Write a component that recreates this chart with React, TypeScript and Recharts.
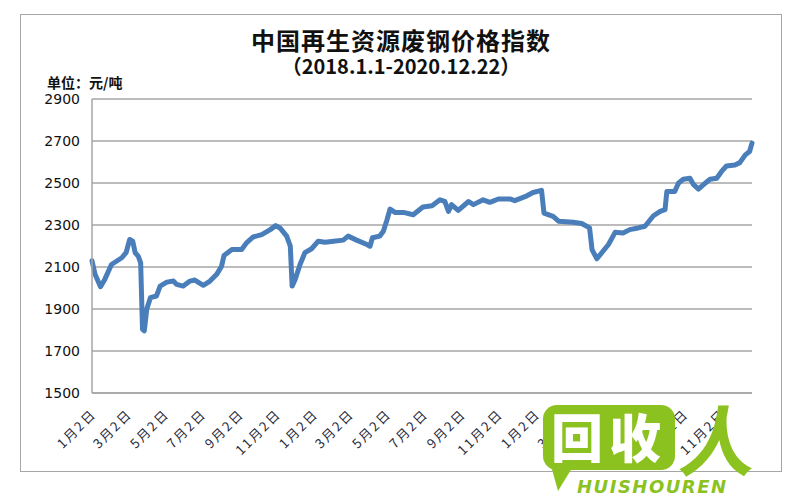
import { LineChart, Line, XAxis, YAxis, CartesianGrid } from 'recharts';

const START = Date.UTC(2018, 0, 2);
const DAY = 86400000;

// 读图估算的指数（元/吨）
const DATES = [
  '2018-01-02', '2018-01-07', '2018-01-16', '2018-01-23', '2018-02-03', '2018-02-20',
  '2018-02-27', '2018-03-05', '2018-03-10', '2018-03-14', '2018-03-19', '2018-03-23',
  '2018-03-26', '2018-03-29', '2018-04-02', '2018-04-08', '2018-04-18', '2018-04-24',
  '2018-05-05', '2018-05-16', '2018-05-21', '2018-06-01', '2018-06-12', '2018-06-20',
  '2018-07-04', '2018-07-15', '2018-07-26', '2018-08-03', '2018-08-07', '2018-08-20',
  '2018-09-05', '2018-09-13', '2018-09-24', '2018-10-08', '2018-10-22', '2018-10-31',
  '2018-11-07', '2018-11-18', '2018-11-24', '2018-11-27', '2018-12-02', '2018-12-10',
  '2018-12-18', '2018-12-29', '2019-01-09', '2019-01-20', '2019-02-03', '2019-02-19',
  '2019-02-27', '2019-03-13', '2019-03-30', '2019-04-04', '2019-04-08', '2019-04-20',
  '2019-04-26', '2019-05-02', '2019-05-07', '2019-05-15', '2019-05-29', '2019-06-14',
  '2019-06-30', '2019-07-15', '2019-07-28', '2019-08-05', '2019-08-11', '2019-08-16',
  '2019-08-27', '2019-09-13', '2019-09-21', '2019-10-07', '2019-10-18', '2019-11-01',
  '2019-11-20', '2019-11-28', '2019-12-18', '2019-12-28', '2020-01-11', '2020-01-15',
  '2020-01-30', '2020-02-08', '2020-03-03', '2020-03-17', '2020-03-30', '2020-04-03',
  '2020-04-11', '2020-04-19', '2020-04-30', '2020-05-11', '2020-05-24', '2020-06-04',
  '2020-06-18', '2020-06-29', '2020-07-13', '2020-07-24', '2020-08-01', '2020-08-04',
  '2020-08-17', '2020-08-23', '2020-08-31', '2020-09-11', '2020-09-17', '2020-09-25',
  '2020-10-06', '2020-10-14', '2020-10-25', '2020-11-02', '2020-11-10', '2020-11-24',
  '2020-12-02', '2020-12-11', '2020-12-18', '2020-12-22',
];

const VALUES = [
  2130, 2065, 2006, 2041, 2112, 2144,
  2168, 2231, 2223, 2168, 2152, 2120,
  1804, 1796, 1899, 1954, 1962, 2009,
  2028, 2033, 2017, 2009, 2033, 2038,
  2013, 2033, 2065, 2104, 2155, 2183,
  2183, 2215, 2243, 2254, 2278, 2297,
  2286, 2247, 2199, 2009, 2041, 2112,
  2168, 2187, 2223, 2218, 2223, 2228,
  2247, 2228, 2207, 2199, 2239, 2247,
  2270, 2325, 2376, 2360, 2360, 2349,
  2386, 2392, 2420, 2412, 2365, 2397,
  2370, 2412, 2397, 2420, 2408, 2424,
  2424, 2416, 2439, 2455, 2465, 2357,
  2341, 2318, 2313, 2307, 2286, 2183,
  2139, 2168, 2207, 2265, 2262, 2278,
  2286, 2294, 2344, 2365, 2373, 2460,
  2460, 2499, 2518, 2523, 2492, 2471,
  2499, 2518, 2523, 2555, 2581, 2586,
  2597, 2634, 2650, 2690,
];

const TICK_DATES = [
  '2018-01-02', '2018-03-02', '2018-05-02', '2018-07-02', '2018-09-02', '2018-11-02',
  '2019-01-02', '2019-03-02', '2019-05-02', '2019-07-02', '2019-09-02', '2019-11-02',
  '2020-01-02', '2020-03-02', '2020-05-02', '2020-07-02', '2020-09-02', '2020-11-02',
];
const Y_TICKS = [1500, 1700, 1900, 2100, 2300, 2500, 2700, 2900];

const toDay = (s: string) => {
  const [y, m, d] = s.split('-').map(Number);
  return (Date.UTC(y, m - 1, d) - START) / DAY;
};

const data = DATES.map((d, i) => ({ t: toDay(d), v: VALUES[i] }));
const xTicks = TICK_DATES.map(toDay);
const END = toDay('2020-12-22');

const tickLabel = (t: number) => {
  const dt = new Date(START + t * DAY);
  return `${dt.getUTCMonth() + 1}月${dt.getUTCDate()}日`;
};

function DateTick({ x, y, payload }: { x?: number; y?: number; payload?: { value: number } }) {
  return (
    <g transform={`translate(${(x ?? 0) + 5},${(y ?? 0) + 14})`}>
      <text
        textAnchor="end"
        transform="rotate(-45)"
        fontSize={13}
        letterSpacing={2}
        fill="#2a2a3a"
        fontFamily='"Noto Sans CJK SC", sans-serif'
      >
        {tickLabel(payload?.value ?? 0)}
      </text>
    </g>
  );
}

const GREEN = '#8cc21f';

export default function App() {
  return (
    <div style={{ position: 'absolute', left: 0, top: 0, width: 800, height: 500, background: '#fff', overflow: 'hidden' }}>
      {/* 外框 */}
      <div style={{
        position: 'absolute', left: 20, top: 14, width: 762, height: 458,
        border: '1.5px solid #a6a6a6', boxSizing: 'border-box',
      }} />

      <LineChart
        width={800}
        height={500}
        data={data}
        margin={{ top: 99, right: 48, bottom: 47, left: 32 }}
        style={{ position: 'absolute', left: 0, top: 0 }}
      >
        <CartesianGrid vertical={false} stroke="#a6a6a6" strokeWidth={1.5} />
        <XAxis
          dataKey="t"
          type="number"
          domain={[0, END]}
          ticks={xTicks}
          interval={0}
          height={60}
          tickLine={false}
          axisLine={{ stroke: '#a6a6a6', strokeWidth: 1.5 }}
          tick={<DateTick />}
        />
        <YAxis
          domain={[1500, 2900]}
          ticks={Y_TICKS}
          interval={0}
          width={60}
          tickLine={false}
          tickSize={0}
          tickMargin={12}
          axisLine={{ stroke: '#a6a6a6', strokeWidth: 1.5 }}
          tick={{ fontSize: 14, fill: '#111', fontFamily: '"DejaVu Sans", sans-serif' }}
        />
        <Line
          type="linear"
          dataKey="v"
          stroke="#4a7ebb"
          strokeWidth={5}
          strokeLinejoin="round"
          strokeLinecap="round"
          dot={false}
          isAnimationActive={false}
        />
      </LineChart>

      {/* 标题 */}
      <div style={{
        position: 'absolute', left: 20, width: 762, top: 27, textAlign: 'center',
        fontFamily: '"Noto Sans CJK SC", sans-serif', fontWeight: 700, fontSize: 24,
        color: '#111', lineHeight: '26px', letterSpacing: 1,
      }}>
        中国再生资源废钢价格指数
      </div>
      <div style={{
        position: 'absolute', left: 20, width: 762, top: 54, textAlign: 'center',
        fontFamily: '"Noto Sans CJK SC", sans-serif', fontWeight: 700, fontSize: 20,
        color: '#111', lineHeight: '23px',
      }}>
        （2018.1.1-2020.12.22）
      </div>
      <div style={{
        position: 'absolute', left: 47, top: 72, fontFamily: '"Noto Sans CJK SC", sans-serif',
        fontWeight: 700, fontSize: 14, color: '#111', lineHeight: '20px',
      }}>
        单位：元/吨
      </div>

      {/* 水印 */}
      <div style={{
        position: 'absolute', left: 543, top: 405, width: 132, height: 65,
        background: GREEN, borderRadius: 14,
      }} />
      <div style={{
        position: 'absolute', left: 548, top: 455, width: 0, height: 0,
        borderLeft: '10px solid transparent', borderRight: '22px solid transparent',
        borderTop: `36px solid ${GREEN}`,
      }} />
      <div style={{
        position: 'absolute', left: 551, top: 404, fontFamily: '"Noto Sans CJK SC", sans-serif',
        fontWeight: 900, fontSize: 52, color: '#fff', lineHeight: '64px', letterSpacing: 6,
      }}>
        回收
      </div>
      <div style={{
        position: 'absolute', left: 682, top: 392, fontFamily: '"Noto Sans CJK SC", sans-serif',
        fontWeight: 700, fontSize: 76, color: GREEN, lineHeight: '90px', transform: 'skewX(-8deg)',
      }}>
        人
      </div>
      <div style={{
        position: 'absolute', left: 577, top: 477, fontFamily: '"DejaVu Sans", sans-serif',
        fontWeight: 700, fontStyle: 'italic', fontSize: 18, color: GREEN, lineHeight: '20px',
        letterSpacing: 1.5,
      }}>
        HUISHOUREN
      </div>
    </div>
  );
}
